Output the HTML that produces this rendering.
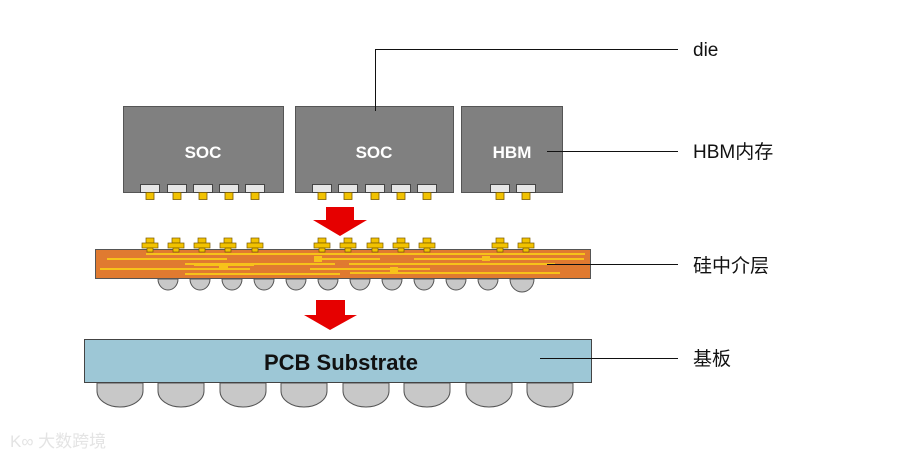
<!DOCTYPE html>
<html><head><meta charset="utf-8"><style>
html,body{margin:0;padding:0;background:#fff;width:915px;height:460px;overflow:hidden}
</style></head><body>
<svg width="915" height="460" viewBox="0 0 915 460" xmlns="http://www.w3.org/2000/svg">
<g font-family="Liberation Sans, sans-serif">
<!-- dies -->
<rect x="123.5" y="106.5" width="160" height="86" fill="#808080" stroke="#555" stroke-width="1"/>
<rect x="295.5" y="106.5" width="158" height="86" fill="#808080" stroke="#555" stroke-width="1"/>
<rect x="461.5" y="106.5" width="101" height="86" fill="#808080" stroke="#555" stroke-width="1"/>
<text x="203" y="158" fill="#fff" font-weight="bold" font-size="17" text-anchor="middle">SOC</text>
<text x="374" y="158" fill="#fff" font-weight="bold" font-size="17" text-anchor="middle">SOC</text>
<text x="512" y="158" fill="#fff" font-weight="bold" font-size="17" text-anchor="middle">HBM</text>
<g fill="#e6e6e6" stroke="#444" stroke-width="1">
<rect x="140.5" y="184.5" width="19" height="8"/><rect x="167.5" y="184.5" width="19" height="8"/><rect x="193.5" y="184.5" width="19" height="8"/><rect x="219.5" y="184.5" width="19" height="8"/><rect x="245.5" y="184.5" width="19" height="8"/>
<rect x="312.5" y="184.5" width="19" height="8"/><rect x="338.5" y="184.5" width="19" height="8"/><rect x="365.5" y="184.5" width="19" height="8"/><rect x="391.5" y="184.5" width="19" height="8"/><rect x="417.5" y="184.5" width="19" height="8"/>
<rect x="490.5" y="184.5" width="19" height="8"/><rect x="516.5" y="184.5" width="19" height="8"/>
</g>
<g fill="#f2c200" stroke="#7a5a00" stroke-width="0.8">
<rect x="146" y="192.5" width="8" height="7"/><rect x="173" y="192.5" width="8" height="7"/><rect x="199" y="192.5" width="8" height="7"/><rect x="225" y="192.5" width="8" height="7"/><rect x="251" y="192.5" width="8" height="7"/>
<rect x="318" y="192.5" width="8" height="7"/><rect x="344" y="192.5" width="8" height="7"/><rect x="371" y="192.5" width="8" height="7"/><rect x="397" y="192.5" width="8" height="7"/><rect x="423" y="192.5" width="8" height="7"/>
<rect x="496" y="192.5" width="8" height="7"/><rect x="522" y="192.5" width="8" height="7"/>
</g>
<!-- arrows -->
<polygon points="326,207 354,207 354,220 367,220 340,236 313,220 326,220" fill="#e60000"/>
<polygon points="316,300 345,300 345,315 357,315 330,330 304,315 316,315" fill="#e60000"/>
<!-- interposer bottom bumps -->
<g fill="#c8c8c8" stroke="#555" stroke-width="1">
<path d="M158,279 a10,11 0 0 0 20,0 z"/><path d="M190,279 a10,11 0 0 0 20,0 z"/><path d="M222,279 a10,11 0 0 0 20,0 z"/><path d="M254,279 a10,11 0 0 0 20,0 z"/><path d="M286,279 a10,11 0 0 0 20,0 z"/><path d="M318,279 a10,11 0 0 0 20,0 z"/><path d="M350,279 a10,11 0 0 0 20,0 z"/><path d="M382,279 a10,11 0 0 0 20,0 z"/><path d="M414,279 a10,11 0 0 0 20,0 z"/><path d="M446,279 a10,11 0 0 0 20,0 z"/><path d="M478,279 a10,11 0 0 0 20,0 z"/><path d="M510,279 a12,13 0 0 0 24,0 z"/>
</g>
<!-- interposer -->
<rect x="95.5" y="249.5" width="495" height="29" fill="#e07a30" stroke="#555" stroke-width="1"/>
<g fill="#f7c21a">
<rect x="146" y="253" width="60" height="2"/><rect x="107" y="258" width="120" height="2"/><rect x="194" y="264" width="60" height="2"/><rect x="100" y="268" width="150" height="2"/><rect x="194" y="273" width="60" height="2"/>
<rect x="170" y="253" width="160" height="2"/><rect x="185" y="263" width="150" height="2"/><rect x="185" y="273" width="155" height="2"/><rect x="230" y="253" width="100" height="2"/>
<rect x="315" y="253" width="270" height="2"/><rect x="349" y="258" width="250" height="1.5" opacity="0"/><rect x="349" y="263" width="130" height="2"/><rect x="414" y="258" width="170" height="2"/><rect x="310" y="268" width="120" height="2"/><rect x="415" y="263" width="140" height="2"/><rect x="350" y="272" width="210" height="2"/><rect x="320" y="258" width="60" height="2"/>
<rect x="219" y="263" width="9" height="5"/><rect x="314" y="256" width="8" height="6"/><rect x="390" y="267" width="8" height="5"/><rect x="482" y="256" width="8" height="5"/>
</g>
<!-- top bumps on interposer -->
<g fill="#f2c200" stroke="#7a5a00" stroke-width="0.7">
<g id="b"><rect x="146" y="238" width="8" height="5"/><rect x="142" y="243" width="16" height="5"/><rect x="147" y="248" width="6" height="4"/></g>
<use href="#b" x="26"/><use href="#b" x="52"/><use href="#b" x="78"/><use href="#b" x="105"/>
<use href="#b" x="172"/><use href="#b" x="198"/><use href="#b" x="225"/><use href="#b" x="251"/><use href="#b" x="277"/>
<use href="#b" x="350"/><use href="#b" x="376"/>
</g>
<!-- PCB bumps -->
<g fill="#c8c8c8" stroke="#555" stroke-width="1">
<path d="M97,383 v8 a23,16 0 0 0 46,0 v-8 z"/><path d="M158,383 v8 a23,16 0 0 0 46,0 v-8 z"/><path d="M220,383 v8 a23,16 0 0 0 46,0 v-8 z"/><path d="M281,383 v8 a23,16 0 0 0 46,0 v-8 z"/><path d="M343,383 v8 a23,16 0 0 0 46,0 v-8 z"/><path d="M404,383 v8 a23,16 0 0 0 46,0 v-8 z"/><path d="M466,383 v8 a23,16 0 0 0 46,0 v-8 z"/><path d="M527,383 v8 a23,16 0 0 0 46,0 v-8 z"/>
</g>
<rect x="84.5" y="339.5" width="507" height="43" fill="#9dc7d6" stroke="#444" stroke-width="1"/>
<text x="341" y="370" fill="#111" font-weight="bold" font-size="22" text-anchor="middle">PCB Substrate</text>
<!-- leaders -->
<g stroke="#111" stroke-width="1" fill="none">
<polyline points="375.5,111 375.5,49.5 678,49.5"/>
<line x1="547" y1="151.5" x2="678" y2="151.5"/>
<line x1="547" y1="264.5" x2="678" y2="264.5"/>
<line x1="540" y1="358.5" x2="678" y2="358.5"/>
</g>
<g font-family="Liberation Sans, Noto Sans CJK SC, sans-serif" font-size="19" fill="#111">
<text x="693" y="56">die</text>
<text x="693" y="158">HBM内存</text>
<text x="693" y="272">硅中介层</text>
<text x="693" y="365">基板</text>
</g>
<text x="10" y="447" font-family="Liberation Sans, Noto Sans CJK SC, sans-serif" font-size="17" fill="#e4e4e4">K∞ 大数跨境</text>
</g>
</svg>
</body></html>
